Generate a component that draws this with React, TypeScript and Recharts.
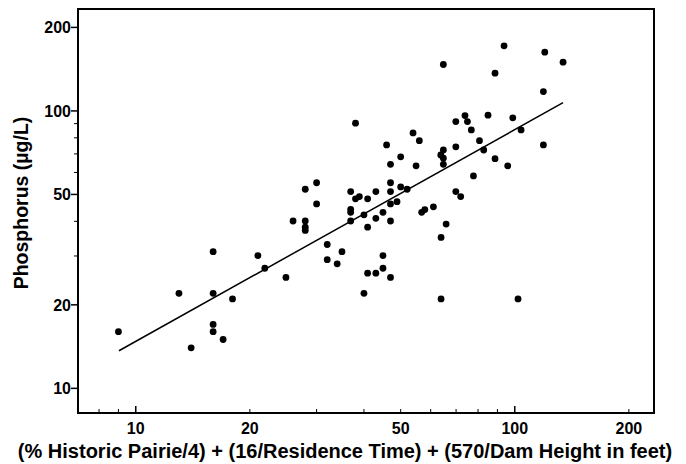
import React from 'react';
import { ScatterChart, Scatter, XAxis, YAxis, ReferenceArea } from 'recharts';

// index = (% Historic Prairie/4) + (16/Residence Time) + (570/Dam Height)
const indexValues = [
    9.0, 16, 21, 21.9, 24.9, 13, 16, 18, 16, 16, 17, 14,
    64.8, 38, 69.9, 73.9, 75, 76.8, 80.7, 53.9, 56, 45.9, 69.9, 64.8,
    63.8, 64.8, 64.8, 50, 47, 54.9, 77.8, 30, 47, 28, 36.9, 43,
    47, 50, 52, 69.9, 72, 38, 38.9, 40.9, 30, 47, 48.9, 36.9,
    36.9, 44.9, 40, 43, 56.8, 57.9, 61, 26, 28, 28, 28, 36.9,
    47, 40.9, 65.9, 63.9, 32, 35, 32, 34, 44.9, 44.9, 40.9, 43,
    47, 40, 63.9, 93.7, 120, 134.1, 88.7, 119, 85, 98.8, 103.9, 82.8,
    119, 88.7, 95.8, 102
];
const phosphorus = [
    16, 31.1, 30.1, 27.1, 25.1, 22, 22, 21, 17, 16, 15, 14,
    147, 90.3, 91.5, 96.2, 91.5, 85.4, 78.1, 83.3, 78.1, 75.4, 74.2, 72.3,
    69.4, 67.5, 64.2, 68.3, 64.2, 63.4, 58.3, 55.1, 55.1, 52.2, 51.2, 51.2,
    51.2, 53.2, 52.2, 51.2, 49.1, 48.2, 49.1, 48.2, 46.2, 46.2, 47.1, 44.2,
    43.1, 43.1, 42.2, 41, 43.1, 44.1, 45.1, 40.1, 40.1, 38.1, 37.1, 40.1,
    40.1, 38.1, 39.1, 35, 33, 31.1, 29.1, 28.1, 30.1, 27.1, 26, 26,
    25.1, 22, 21, 171.6, 162.8, 149.8, 136.8, 117.4, 96.5, 94.4, 85.4, 72.3,
    75.4, 67.3, 63.4, 21
];

// regression line end points
const fitX = [9.03, 134.1];
const fitY = [13.66, 107.1];

const xTicks = [8, 9, 10, 20, 30, 40, 50, 60, 70, 80, 90, 100, 200];
const xMajor = [10, 100];
const xLabels = [10, 20, 50, 100, 200];
const yTicks = [10, 20, 30, 40, 50, 60, 70, 80, 90, 100, 200];
const yLabels = [10, 20, 50, 100, 200];

const xDomain = [7.04, 233];
const yDomain = [8.15, 233];

const points = indexValues.map((x, i) => ({ x, y: phosphorus[i] }));
const fit = fitX.map((x, i) => ({ x, y: fitY[i] }));

const font = '"Liberation Sans", Arial, sans-serif';

const XTick = (props: any) => {
    const { x, y, payload } = props;
    const v = payload.value;
    const major = xMajor.includes(v);
    return (
        <g>
            <line x1={x} x2={x} y1={y} y2={y - (major ? 7 : 4)} stroke="#000" strokeWidth={major ? 1.5 : 1} />
            {xLabels.includes(v) && (
                <text x={x} y={y + 21} textAnchor="middle" fontFamily={font} fontWeight="bold" fontSize={16} fill="#000">
                    {v}
                </text>
            )}
        </g>
    );
};

const YTick = (props: any) => {
    const { x, y, payload } = props;
    const v = payload.value;
    const major = yLabels.includes(v);
    return (
        <g>
            <line x1={x} x2={x - (major ? 7 : 4)} y1={y} y2={y} stroke="#000" strokeWidth={major ? 1.5 : 1} />
            {major && (
                <text x={x - 7} y={y} dy="0.36em" textAnchor="end" fontFamily={font} fontWeight="bold" fontSize={16} fill="#000">
                    {v}
                </text>
            )}
        </g>
    );
};

const Dot = (props: any) => <circle cx={props.cx} cy={props.cy} r={3.4} fill="#000" />;

const App: React.FC = () => {
    return (
        <div style={{ position: 'absolute', left: 0, top: 0, background: '#fff' }}>
            <ScatterChart width={686} height={464} margin={{ top: 9, right: 32, bottom: 0, left: 0 }}>
                <XAxis
                    dataKey="x"
                    type="number"
                    scale="log"
                    domain={xDomain}
                    allowDataOverflow
                    ticks={xTicks}
                    interval={0}
                    tickSize={0}
                    tickMargin={0}
                    tick={<XTick />}
                    height={51}
                    axisLine={{ stroke: '#000', strokeWidth: 2 }}
                    label={{
                        content: () => (
                            <text x={345} y={458} textAnchor="middle" fontFamily={font} fontWeight="bold" fontSize={20} fill="#000">
                                (% Historic Pairie/4) + (16/Residence Time) + (570/Dam Height in feet)
                            </text>
                        )
                    }}
                />
                <YAxis
                    dataKey="y"
                    type="number"
                    scale="log"
                    domain={yDomain}
                    allowDataOverflow
                    ticks={yTicks}
                    interval={0}
                    tickSize={0}
                    tickMargin={0}
                    tick={<YTick />}
                    width={78}
                    axisLine={{ stroke: '#000', strokeWidth: 2 }}
                    label={{
                        content: () => (
                            <text x={21} y={203} transform="rotate(-90 21 203)" dy="0.36em" textAnchor="middle" fontFamily={font} fontWeight="bold" fontSize={19.5} fill="#000">
                                Phosphorus (µg/L)
                            </text>
                        )
                    }}
                />
                <ReferenceArea
                    x1={xDomain[0]}
                    x2={xDomain[1]}
                    y1={yDomain[0]}
                    y2={yDomain[1]}
                    fill="none"
                    stroke="#000"
                    strokeWidth={2}
                    ifOverflow="visible"
                />
                <Scatter data={points} shape={<Dot />} isAnimationActive={false} />
                <Scatter
                    data={fit}
                    line={{ stroke: '#000', strokeWidth: 1.5 }}
                    shape={() => <g />}
                    isAnimationActive={false}
                />
            </ScatterChart>
        </div>
    );
};

export default App;
